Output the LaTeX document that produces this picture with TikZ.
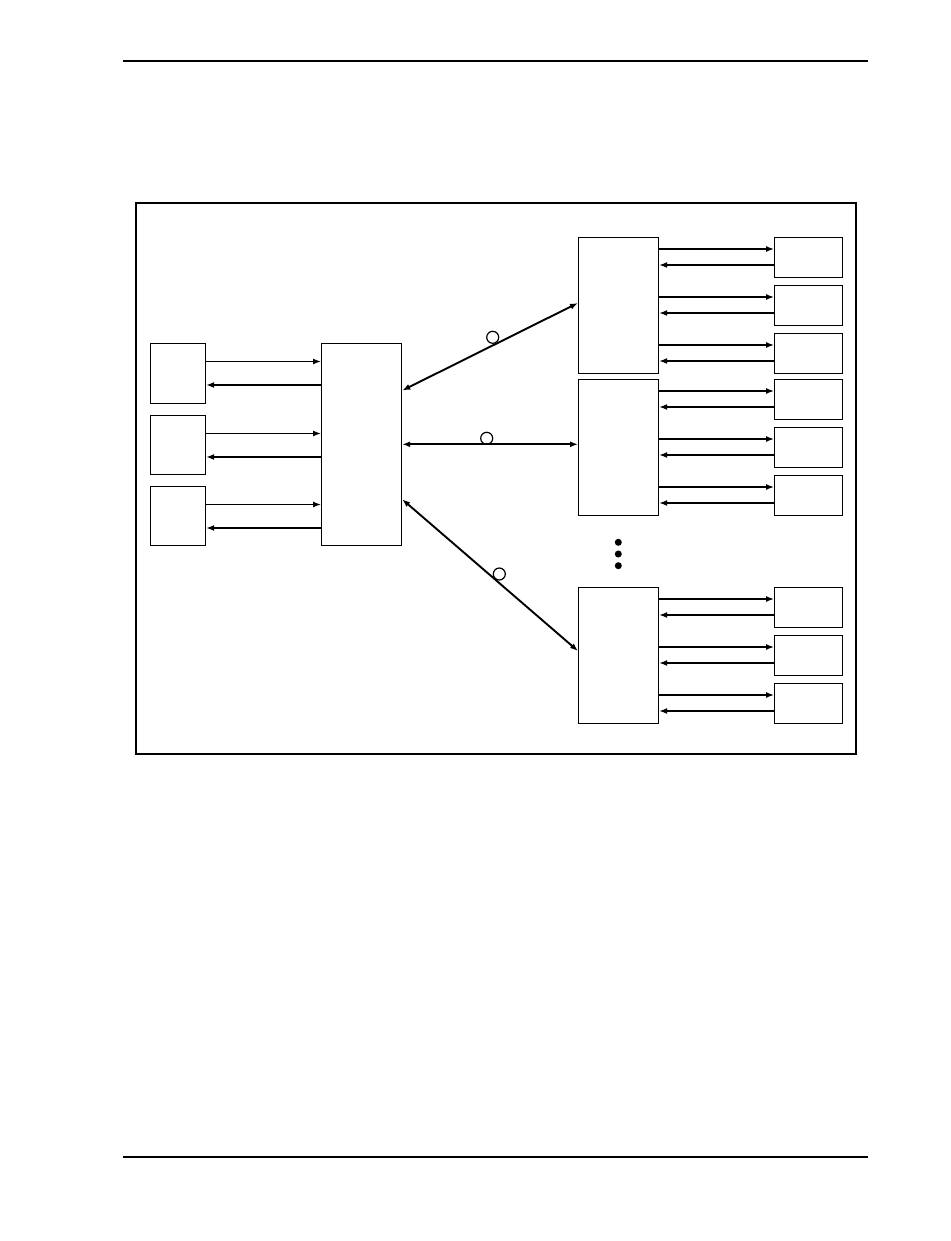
\documentclass[tikz,border=0pt]{standalone}
\usetikzlibrary{arrows.meta,calc}
\tikzset{
  box/.style={draw=black, line width=1.2pt, inner sep=0pt, anchor=north west, fill=white},
  arr/.style={line width=1.4pt, -{Latex[length=8pt,width=6pt]}},
  darr/.style={line width=1.9pt, {Latex[length=8pt,width=6pt]}-{Latex[length=8pt,width=6pt]}},
  ring/.style={draw=black, line width=1.2pt, circle, minimum size=12pt, inner sep=0pt},
  dot/.style={fill=black, circle, minimum size=7pt, inner sep=0pt},
  rule/.style={line width=1.3pt}
}
\begin{document}
\begin{tikzpicture}[x=1pt,y=-1pt]
\useasboundingbox (0,0) rectangle (950,1241);
% page rules
\coordinate (h1) at (123,61); \coordinate (h2) at (868,61);
\coordinate (f1) at (123,1157); \coordinate (f2) at (868,1157);
\draw[rule] (h1) -- (h2);
\draw[rule] (f1) -- (f2);
% frame
\draw[line width=2pt] (136,203) rectangle (856,754);
% left boxes
\node[box, minimum width=55pt, minimum height=60pt] (l1) at (150,343) {};
\node[box, minimum width=55pt, minimum height=59pt] (l2) at (150,415) {};
\node[box, minimum width=55pt, minimum height=59pt] (l3) at (150,486) {};
% central box
\node[box, minimum width=80pt, minimum height=202pt] (c) at (321,343) {};
% right big boxes
\node[box, minimum width=80pt, minimum height=136pt] (A) at (578,237) {};
\node[box, minimum width=80pt, minimum height=136pt] (B) at (578,379) {};
\node[box, minimum width=80pt, minimum height=136pt] (C) at (578,587) {};
% small boxes
\foreach \n/\t in {a1/237,a2/285,a3/333,b1/379,b2/427,b3/475,c1/587,c2/635,c3/683}{
  \node[box, minimum width=68pt, minimum height=40pt] (\n) at (774,\t) {};
}
% left arrows
\foreach \n in {l1,l2,l3}{
  \draw[arr] ([yshift=-18.5pt]\n.north east) -- ([yshift=-18.5pt]\n.north east -| c.west);
  \draw[arr] ([yshift=-42pt]\n.north east -| c.west) -- ([yshift=-42pt]\n.north east);
}
% right arrows
\foreach \n/\m in {a1/A,a2/A,a3/A,b1/B,b2/B,b3/B,c1/C,c2/C,c3/C}{
  \draw[arr] ([yshift=-12pt]\n.north west -| \m.east) -- ([yshift=-12pt]\n.north west);
  \draw[arr] ([yshift=-28pt]\n.north west) -- ([yshift=-28pt]\n.north west -| \m.east);
}
% trunk connectors
\draw[darr] ([yshift=-47.5pt]c.north east) -- ([yshift=-66pt]A.north west);
\draw[darr] ([yshift=-101.3pt]c.north east) -- ([yshift=-65.3pt]B.north west);
\draw[darr] ([yshift=-156.3pt]c.north east) -- ([yshift=-64pt]C.north west);
% rings
\node[ring] (r1) at (492.7,337.3) {};
\node[ring] (r2) at (486.7,438.3) {};
\node[ring] (r3) at (499.3,574) {};
% dots
\node[dot] (d1) at (618.3,542.3) {};
\node[dot] (d2) at (618.3,554) {};
\node[dot] (d3) at (618.3,565.7) {};
\end{tikzpicture}
\end{document}
